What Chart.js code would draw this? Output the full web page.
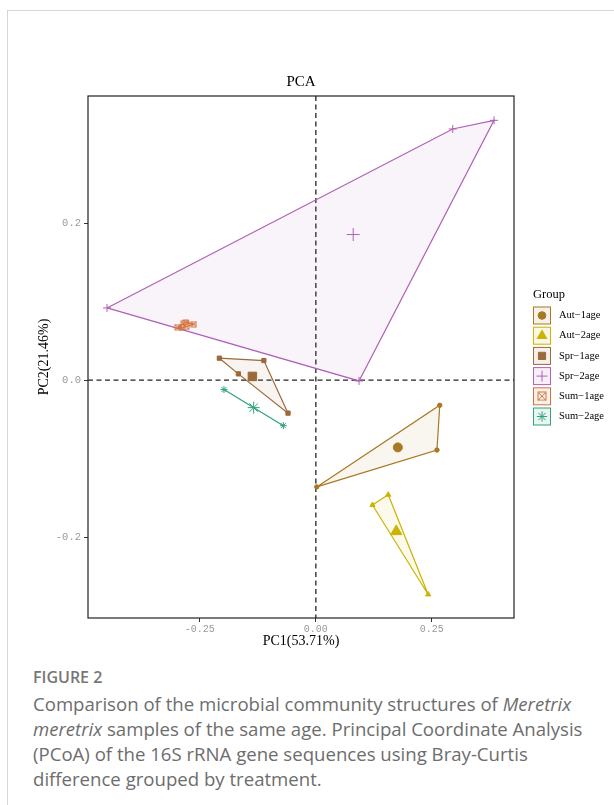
<!DOCTYPE html>
<html>
<head>
<meta charset="utf-8">
<script src="https://cdn.jsdelivr.net/npm/chart.js@4"></script>
<style>
  body { margin: 0; background: #fff; }
  #page { position: relative; width: 614px; height: 805px; overflow: hidden; }
  #card { position: absolute; left: 7px; top: 10px; right: -2px; bottom: -2px; border-top: 1px solid #d6d6d6; border-left: 1px solid #d6d6d6; }
  #pca { position: absolute; left: 0; top: 0; }
  #caption { position: absolute; left: 33px; top: 666px; width: 566px; font-family: "Open Sans", sans-serif; color: #6d6d6d; }
  #caption .fig { font-size: 16px; font-weight: 600; color: #777; margin-bottom: 3px; }
  #caption .txt { font-size: 18.6px; line-height: 25px; }
</style>
</head>
<body>
<div id="page">
  <div id="card"></div>
  <canvas id="pca" width="614" height="660"></canvas>
  <div id="caption">
    <div class="fig">FIGURE 2</div>
    <div class="txt">Comparison of the microbial community structures of <i>Meretrix meretrix</i> samples of the same age. Principal Coordinate Analysis (PCoA) of the 16S rRNA gene sequences using Bray-Curtis difference grouped by treatment.</div>
  </div>
</div>
<script>
// sample coordinates per group (PC1, PC2)
const groups = ['Aut\u22121age', 'Aut\u22122age', 'Spr\u22121age', 'Spr\u22122age', 'Sum\u22121age', 'Sum\u22122age'];
const aut1X = [0.002, 0.267, 0.261];
const aut1Y = [-0.136, -0.032, -0.089];
const aut2X = [0.122, 0.156, 0.242];
const aut2Y = [-0.159, -0.146, -0.273];
const spr1X = [-0.208, -0.112, -0.060, -0.167];
const spr1Y = [0.028, 0.025, -0.042, 0.008];
const spr2X = [-0.450, 0.295, 0.384, 0.093];
const spr2Y = [0.092, 0.320, 0.331, -0.001];
const sum1X = [-0.298, -0.280, -0.263, -0.287];
const sum1Y = [0.0675, 0.0735, 0.0713, 0.0665];
const sum2X = [-0.198, -0.070];
const sum2Y = [-0.012, -0.058];

const xTicks = [-0.25, 0, 0.25];
const yTicks = [-0.2, 0, 0.2];

const colors = ['#a97823', '#cbb300', '#9b6a3a', '#b160b8', '#d2743e', '#2fa37c'];

// boxed X marker (square with a cross inside)
function boxX(size, color) {
    const c = document.createElement('canvas');
    c.width = size + 2; c.height = size + 2;
    const g = c.getContext('2d');
    g.strokeStyle = color; g.lineWidth = 1;
    g.strokeRect(1, 1, size, size);
    g.beginPath();
    g.moveTo(1, 1); g.lineTo(size + 1, size + 1);
    g.moveTo(size + 1, 1); g.lineTo(1, size + 1);
    g.stroke();
    return c;
}

const styles = [
    { small: { pointStyle: 'circle', radius: 2.2 }, big: { pointStyle: 'circle', radius: 4.5 } },
    { small: { pointStyle: 'triangle', radius: 3 }, big: { pointStyle: 'triangle', radius: 6.5 } },
    { small: { pointStyle: 'rect', radius: 3 }, big: { pointStyle: 'rect', radius: 6 } },
    { small: { pointStyle: 'cross', radius: 4 }, big: { pointStyle: 'cross', radius: 6.5 } },
    { small: { pointStyle: boxX(5, colors[4]), radius: 3 }, big: { pointStyle: boxX(8, colors[4]), radius: 4 } },
    { small: { pointStyle: 'star', radius: 3.5 }, big: { pointStyle: 'star', radius: 6 } }
];

const groupX = [aut1X, aut2X, spr1X, spr2X, sum1X, sum2X];
const groupY = [aut1Y, aut2Y, spr1Y, spr2Y, sum1Y, sum2Y];

function hexA(hex, a) {
    const n = parseInt(hex.slice(1), 16);
    return `rgba(${n >> 16}, ${(n >> 8) & 255}, ${n & 255}, ${a})`;
}

// convex hull (monotone chain), closed
function hull(pts) {
    const p = pts.slice().sort((a, b) => a.x - b.x || a.y - b.y);
    if (p.length < 3) return p.concat([p[0]]);
    const cross = (o, a, b) => (a.x - o.x) * (b.y - o.y) - (a.y - o.y) * (b.x - o.x);
    const lower = [], upper = [];
    for (const q of p) { while (lower.length >= 2 && cross(lower[lower.length - 2], lower[lower.length - 1], q) <= 0) lower.pop(); lower.push(q); }
    for (const q of p.slice().reverse()) { while (upper.length >= 2 && cross(upper[upper.length - 2], upper[upper.length - 1], q) <= 0) upper.pop(); upper.push(q); }
    const h = lower.slice(0, -1).concat(upper.slice(0, -1));
    return h.concat([h[0]]);
}

const datasets = [];
groups.forEach((name, i) => {
    const pts = groupX[i].map((x, k) => ({ x: x, y: groupY[i][k] }));
    const cx = groupX[i].reduce((s, v) => s + v, 0) / pts.length;
    const cy = groupY[i].reduce((s, v) => s + v, 0) / pts.length;
    const col = colors[i];
    datasets.push({
        label: name + ' hull', data: hull(pts), showLine: true, order: 3,
        borderColor: col, borderWidth: 1.2, backgroundColor: hexA(col, 0.07),
        fill: 'shape', pointRadius: 0, tension: 0
    });
    datasets.push({
        label: name, data: pts, order: 2,
        pointStyle: styles[i].small.pointStyle, pointRadius: styles[i].small.radius,
        pointBackgroundColor: col, pointBorderColor: col, pointBorderWidth: 1
    });
    datasets.push({
        label: name + ' centre', data: [{ x: cx, y: cy }], order: 1,
        pointStyle: styles[i].big.pointStyle, pointRadius: styles[i].big.radius,
        pointBackgroundColor: col, pointBorderColor: col, pointBorderWidth: 1
    });
});

const frame = {
    id: 'frame',
    beforeDatasetsDraw(chart) {
        const { ctx, chartArea: a, scales: { x, y } } = chart;
        ctx.save();
        ctx.strokeStyle = '#222';
        ctx.lineWidth = 1.3;
        ctx.setLineDash([5, 3.5]);
        ctx.beginPath();
        const x0 = x.getPixelForValue(0), y0 = y.getPixelForValue(0);
        ctx.moveTo(x0, a.top); ctx.lineTo(x0, a.bottom);
        ctx.moveTo(a.left, y0); ctx.lineTo(a.right, y0);
        ctx.stroke();
        ctx.restore();
    },
    afterDraw(chart) {
        const { ctx, chartArea: a } = chart;
        ctx.save();
        ctx.strokeStyle = '#222';
        ctx.lineWidth = 1.2;
        ctx.strokeRect(a.left, a.top, a.right - a.left, a.bottom - a.top);

        // legend
        const lx = a.right + 19;
        ctx.fillStyle = '#000';
        ctx.font = '12.5px "Liberation Serif"';
        ctx.textBaseline = 'middle';
        ctx.fillText('Group', lx, 295);
        groups.forEach((name, i) => {
            const cy = 315.5 + i * 20.2;
            ctx.fillStyle = hexA(colors[i], 0.1);
            ctx.fillRect(lx + 0.5, cy - 8.5, 17, 17);
            ctx.strokeStyle = colors[i];
            ctx.lineWidth = 1;
            ctx.strokeRect(lx + 0.5, cy - 8.5, 17, 17);
            ctx.fillStyle = colors[i];
            ctx.strokeStyle = colors[i];
            ctx.beginPath();
            Chart.helpers.drawPoint(ctx, {
                pointStyle: styles[i].big.pointStyle, radius: styles[i].big.radius * 0.85,
                borderWidth: 1, rotation: 0
            }, lx + 9, cy);
            ctx.fillStyle = '#000';
            ctx.font = '10.5px "Liberation Serif"';
            ctx.fillText(name, lx + 26, cy);
        });
        ctx.restore();
    }
};

const tickFont = { family: 'Liberation Mono', size: 10 };
const titleFont = { family: 'Liberation Serif', size: 14 };

new Chart(document.getElementById('pca').getContext('2d'), {
    type: 'scatter',
    data: { datasets: datasets },
    options: {
        responsive: false,
        animation: false,
        layout: { padding: { left: 0, right: 100, top: 73, bottom: 0 } },
        plugins: {
            legend: { display: false },
            tooltip: { enabled: false },
            title: {
                display: true, text: 'PCA', fullSize: false, color: '#000',
                font: { family: 'Liberation Serif', size: 15, weight: 'normal' },
                padding: { top: 0, bottom: 5 }
            }
        },
        scales: {
            x: {
                type: 'linear', min: -0.491, max: 0.427,
                afterFit: s => { s.height = 42; },
                afterBuildTicks: s => { s.ticks = xTicks.map(v => ({ value: v })); },
                ticks: {
                    font: tickFont, color: '#999', padding: 1,
                    callback: v => (Math.abs(v) < 1e-9 ? 0 : v).toFixed(2)
                },
                grid: { drawOnChartArea: false, drawTicks: true, tickLength: 4, color: '#333' },
                border: { display: false },
                title: { display: true, text: 'PC1(53.71%)', color: '#000', font: titleFont, padding: { top: 0, bottom: 10 } }
            },
            y: {
                type: 'linear', min: -0.303, max: 0.362,
                afterFit: s => { s.width = 88; },
                afterBuildTicks: s => { s.ticks = yTicks.map(v => ({ value: v })); },
                ticks: {
                    font: { family: 'Liberation Mono', size: 10.5 }, color: '#999', padding: 3,
                    callback: v => (Math.abs(v) < 1e-9 ? 0 : v).toFixed(1)
                },
                grid: { drawOnChartArea: false, drawTicks: true, tickLength: 4, color: '#333' },
                border: { display: false },
                title: { display: true, text: 'PC2(21.46%)', color: '#000', font: titleFont, padding: { top: 36, bottom: 0 } }
            }
        }
    },
    plugins: [frame]
});
</script>
</body>
</html>
